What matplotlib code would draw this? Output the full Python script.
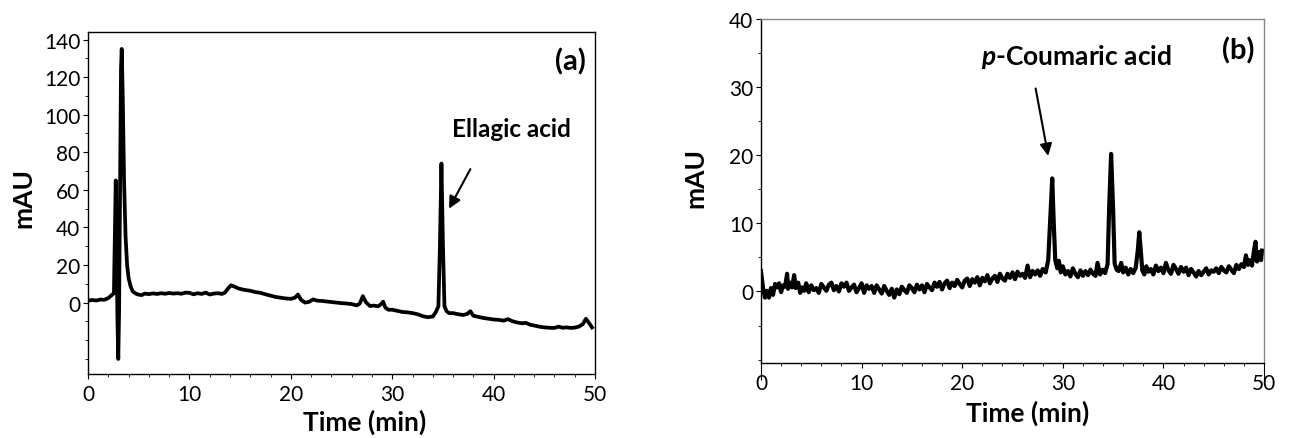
# chromatograms.py
# HPLC chromatograms of the two extracts, panels (a) and (b)

import matplotlib.pyplot as plt
from matplotlib.ticker import MultipleLocator, FixedLocator

plt.rcParams['font.family'] = ['Lato', 'DejaVu Sans']
plt.rcParams['mathtext.fontset'] = 'custom'
plt.rcParams['mathtext.bfit'] = 'Lato:italic:bold'

# --- Panel (a) ---
a_time = [0.0, 0.4, 0.8, 1.2, 1.6, 2.0, 2.3, 2.55, 2.65, 2.73, 2.82, 2.9, 2.98,
          3.06, 3.15, 3.25, 3.32, 3.42, 3.55, 3.7, 3.85, 4.0, 4.2, 4.4, 4.7,
          5.0, 5.3, 5.6, 6.0, 6.4, 6.8, 7.2, 7.6, 8.0, 8.4, 8.8, 9.2, 9.6,
          10.0, 10.4, 10.8, 11.2, 11.6, 12.0, 12.4, 12.8, 13.2, 13.5, 13.8,
          14.1, 14.4, 14.8, 15.2, 15.6, 16.0, 16.5, 17.0, 17.5, 18.0, 18.5,
          19.0, 19.5, 20.0, 20.4, 20.7, 21.0, 21.4, 21.8, 22.2, 22.6, 23.0,
          23.5, 24.0, 24.5, 25.0, 25.5, 26.0, 26.5, 26.8, 27.1, 27.4, 27.8,
          28.2, 28.6, 28.9, 29.1, 29.3, 29.6, 30.0, 30.5, 31.0, 31.5, 32.0,
          32.5, 33.0, 33.5, 34.0, 34.3, 34.55, 34.7, 34.85, 35.0, 35.15, 35.35,
          35.6, 36.0, 36.5, 37.0, 37.4, 37.7, 38.0, 38.5, 39.0, 39.5, 40.0,
          40.5, 41.0, 41.4, 41.8, 42.3, 42.8, 43.2, 43.6, 44.0, 44.5, 45.0,
          45.5, 46.0, 46.4, 46.8, 47.2, 47.6, 48.0, 48.4, 48.8, 49.1, 49.4,
          49.6, 49.7]
a_mau = [1.0, 1.4, 1.1, 1.6, 1.5, 2.4, 3.8, 5.0, 40, 65, 30, -10, -30,
         -5, 60, 125, 135, 110, 65, 35, 20, 13, 8.5, 6.0, 4.8,
         4.2, 4.0, 4.8, 4.5, 4.9, 4.6, 5.0, 4.7, 5.1, 4.8, 5.0, 4.7, 5.3,
         5.2, 4.4, 5.0, 4.6, 5.3, 4.3, 4.8, 5.0, 4.6, 5.3, 7.5,
         9.2, 8.6, 7.6, 7.0, 6.6, 6.3, 5.6, 5.2, 4.4, 3.7, 3.0,
         2.6, 2.2, 2.0, 2.6, 4.3, 1.5, 0.0, 0.4, 1.7, 1.0, 0.9,
         0.6, 0.3, 0.0, -0.3, -0.5, -0.8, -1.5, -0.5, 3.4, 0.2, -1.8,
         -1.6, -2.0, -0.8, 0.5, -2.5, -3.8, -3.8, -4.4, -5.0, -5.2, -5.6,
         -6.2, -7.2, -7.8, -7.4, -5.0, -2.0, 30, 74, 30, -2.0, -4.5,
         -5.6, -5.6, -6.2, -6.6, -6.0, -4.6, -7.0, -7.6, -8.2, -8.6, -9.0,
         -9.2, -9.6, -8.8, -9.8, -10.6, -11.0, -10.8, -11.8, -12.2, -12.8, -13.2,
         -13.4, -13.5, -12.8, -13.4, -13.2, -13.5, -13.3, -12.8, -11.4, -8.6, -10.8,
         -12.4, -13.2]

# --- Panel (b) ---
b_time = [0.0, 0.2, 0.4, 0.6, 0.8, 1.0, 1.2, 1.4, 1.6, 1.8, 2.0, 2.2, 2.4,
          2.6, 2.7, 2.9, 3.1, 3.3, 3.45, 3.7, 3.9, 4.1, 4.3, 4.5, 4.75,
          5.0, 5.25, 5.5, 5.75, 6.0, 6.25, 6.5, 6.75, 7.0, 7.25, 7.5, 7.75,
          8.0, 8.25, 8.5, 8.75, 9.0, 9.25, 9.5, 9.75, 10.0, 10.25, 10.5, 10.75,
          11.0, 11.25, 11.5, 11.75, 12.0, 12.25, 12.5, 12.75, 13.0, 13.25, 13.5,
          13.75, 14.0, 14.25, 14.5, 14.75, 15.0, 15.25, 15.5, 15.75, 16.0, 16.25,
          16.5, 16.75, 17.0, 17.25, 17.5, 17.75, 18.0, 18.25, 18.5, 18.75, 19.0,
          19.25, 19.5, 19.75, 20.0, 20.25, 20.5, 20.75, 21.0, 21.25, 21.5, 21.75,
          22.0, 22.25, 22.5, 22.75, 23.0, 23.25, 23.5, 23.75, 24.0, 24.25, 24.5,
          24.75, 25.0, 25.25, 25.5, 25.75, 26.0, 26.25, 26.5, 26.75, 27.0, 27.25,
          27.5, 27.75, 28.0, 28.3, 28.55, 28.75, 28.95, 29.1, 29.25, 29.45, 29.6,
          29.8, 30.0, 30.25, 30.5, 30.75, 31.0, 31.25, 31.5, 31.75, 32.0, 32.25,
          32.5, 32.75, 33.0, 33.25, 33.45, 33.7, 33.95, 34.2, 34.45, 34.6, 34.8,
          35.0, 35.15, 35.35, 35.55, 35.8, 36.0, 36.25, 36.5, 36.75, 37.0, 37.25,
          37.45, 37.6, 37.75, 37.9, 38.1, 38.3, 38.5, 38.75, 39.0, 39.25, 39.5,
          39.75, 40.0, 40.25, 40.5, 40.75, 41.0, 41.25, 41.5, 41.75, 42.0, 42.25,
          42.5, 42.75, 43.0, 43.25, 43.5, 43.75, 44.0, 44.25, 44.5, 44.75, 45.0,
          45.25, 45.5, 45.75, 46.0, 46.25, 46.5, 46.75, 47.0, 47.25, 47.5, 47.75,
          48.0, 48.2, 48.4, 48.6, 48.8, 49.0, 49.15, 49.3, 49.5, 49.7, 49.8]
b_mau = [3.0, 0.6, -0.9, 0.1, -0.9, 0.5, -0.5, 1.1, 0.6, 1.2, -0.1, 0.9, 0.7,
         2.6, 0.4, 1.3, 0.6, 2.4, 0.5, 1.3, -0.2, 0.6, 0.1, 1.2, -0.1,
         0.9, 0.2, 0.5, -0.2, 1.1, 0.6, 0.1, 1.0, 1.3, 0.2, 0.8, 0.0,
         1.2, 0.7, 1.3, 0.1, 0.6, 1.0, -0.1, 0.5, 1.2, -0.2, 0.9, 0.4,
         0.8, -0.2, 0.9, 0.3, -0.3, 0.8, 0.1, -0.5, 0.4, -0.9, 0.3,
         -0.4, 0.7, 0.2, -0.2, 0.9, 0.5, -0.1, 1.0, 0.3, 0.9, -0.1,
         1.1, 0.6, 0.2, 1.3, 0.7, 1.4, 0.3, 1.2, 1.6, 0.5, 1.3,
         0.8, 1.7, 1.1, 0.6, 1.6, 1.9, 0.8, 1.8, 1.3, 2.1, 0.9,
         2.0, 1.5, 2.4, 1.2, 1.9, 2.3, 1.4, 2.6, 1.9, 1.6, 2.6,
         2.0, 2.8, 1.8, 2.9, 2.3, 2.6, 2.0, 3.8, 2.1, 3.0, 2.5,
         3.1, 2.3, 3.3, 2.8, 4.6, 10.5, 16.6, 10.0, 4.6, 3.4, 4.5,
         2.8, 3.7, 2.5, 3.0, 2.2, 3.4, 2.6, 2.1, 3.1, 2.3, 3.0,
         2.4, 3.2, 2.6, 2.3, 4.2, 2.5, 3.2, 2.7, 4.0, 12.0, 20.2,
         12.0, 4.1, 3.2, 3.0, 4.2, 2.8, 3.5, 2.5, 3.3, 2.7, 3.5,
         6.0, 8.7, 6.0, 3.1, 2.5, 3.7, 2.9, 3.3, 2.5, 3.8, 3.0,
         3.5, 2.7, 4.2, 3.1, 2.6, 3.9, 3.3, 2.6, 3.6, 2.9, 3.5,
         2.4, 3.3, 2.8, 2.2, 3.0, 2.4, 2.9, 3.4, 2.5, 3.1, 2.9,
         3.4, 2.7, 3.6, 3.1, 2.8, 3.7, 3.2, 2.7, 3.9, 3.3, 4.0,
         3.6, 5.3, 3.9, 4.6, 3.8, 6.0, 7.3, 4.4, 5.8, 4.6, 6.0]

a_yticks = [0, 20, 40, 60, 80, 100, 120, 140]
b_yticks = [0, 10, 20, 30, 40]
x_ticks = [0, 10, 20, 30, 40, 50]

fig = plt.figure(figsize=(12.95, 4.39), dpi=100)
ax_a = fig.add_axes([0.068, 0.1458, 0.3915, 0.779])
ax_b = fig.add_axes([0.5876, 0.1708, 0.3885, 0.7836])

ax_a.plot(a_time, a_mau, color='black', lw=2.7, solid_joinstyle='round')
ax_b.plot(b_time, b_mau, color='black', lw=3.0, solid_joinstyle='round')

ax_a.set_xlim(0, 50)
ax_a.set_ylim(-38, 144)
ax_b.set_xlim(0, 50)
ax_b.set_ylim(-10.5, 40)

for ax, yt, ymin in [(ax_a, a_yticks, 10), (ax_b, b_yticks, 5)]:
    ax.xaxis.set_major_locator(FixedLocator(x_ticks))
    ax.xaxis.set_minor_locator(MultipleLocator(2))
    ax.yaxis.set_major_locator(FixedLocator(yt))
    ax.yaxis.set_minor_locator(MultipleLocator(ymin))
    ax.tick_params(which='major', direction='out', length=3.5, width=0.8,
                   labelsize=15, pad=2)
    ax.tick_params(which='minor', direction='out', length=2.5, width=0.6)
    ax.tick_params(axis='x', which='major', pad=4)
    ax.set_xlabel('Time (min)', fontsize=19, fontweight='bold')
    ax.set_ylabel('mAU', fontsize=19, fontweight='bold')
    ax.xaxis.label.set_verticalalignment('center')
    ax.yaxis.label.set_verticalalignment('center')
    for s in ax.spines.values():
        s.set_linewidth(1.0)

ax_a.xaxis.set_label_coords(0.546, -0.137)
ax_a.yaxis.set_label_coords(-0.128, 0.519)
ax_b.xaxis.set_label_coords(0.531, -0.142)
ax_b.yaxis.set_label_coords(-0.131, 0.542)

# Excel style: grey top/right frame on panel (b), long end ticks
ax_b.spines['top'].set_color('#878787')
ax_b.spines['right'].set_color('#878787')
xt = ax_b.xaxis.get_major_ticks()
xt[0].tick1line.set_markersize(12)
xt[-1].tick1line.set_markersize(12)

# --- Annotations ---
ax_a.text(0.982, 0.915, '(a)', transform=ax_a.transAxes, ha='right',
          va='center', fontsize=21, fontweight='bold')
ax_b.text(0.982, 0.911, '(b)', transform=ax_b.transAxes, ha='right',
          va='center', fontsize=21, fontweight='bold')

ax_a.text(41.8, 92.6, 'Ellagic acid', ha='center', va='center',
          fontsize=17.5, fontweight='bold')
ax_a.annotate('', xy=(35.6, 50), xytext=(37.7, 71),
              arrowprops=dict(arrowstyle='-|>', color='black', lw=1.5,
                              mutation_scale=18, shrinkA=0, shrinkB=0))

ax_b.text(31.4, 34.6, r'$\mathbfit{p}$-Coumaric acid', ha='center',
          va='center', fontsize=19, fontweight='bold')
ax_b.annotate('', xy=(28.55, 19.9), xytext=(27.3, 29.8),
              arrowprops=dict(arrowstyle='-|>', color='black', lw=1.5,
                              mutation_scale=18, shrinkA=0, shrinkB=0))

plt.savefig('out.png', dpi=100)
